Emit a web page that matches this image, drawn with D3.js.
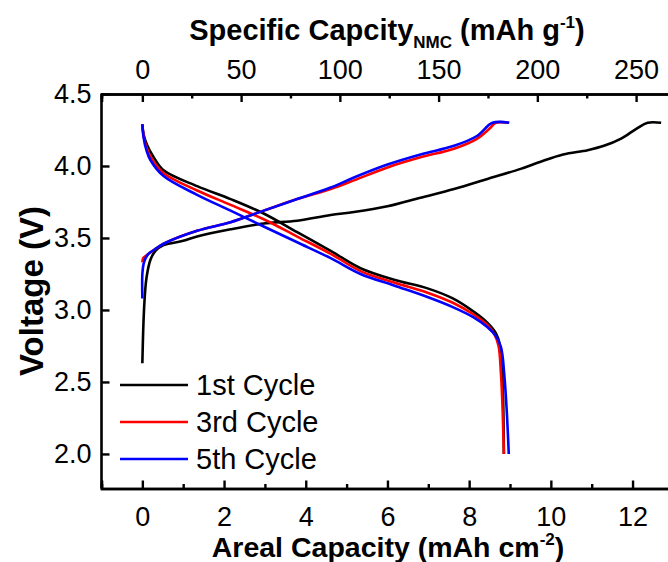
<!DOCTYPE html>
<html>
<head>
<meta charset="utf-8">
<script src="https://cdn.jsdelivr.net/npm/d3@7"></script>
<style>
  body { margin: 0; background: #fff; }
  svg { display: block; font-family: "Liberation Sans", Arial, sans-serif; }
</style>
</head>
<body>
<script>
// cycle 1 (black)
var c1ChargeCap = [0, 0.02, 0.05, 0.1, 0.2, 0.32, 0.52, 1.0, 1.34, 2.16, 2.97, 3.79, 4.61, 5.18, 6.0, 6.81, 7.63, 8.45, 9.26, 9.75, 10.3, 10.9, 11.3, 11.72, 12.1, 12.37, 12.7];
var c1ChargeV   = [2.63, 2.85, 3.05, 3.22, 3.35, 3.41, 3.45, 3.48, 3.51, 3.56, 3.60, 3.62, 3.66, 3.68, 3.72, 3.78, 3.84, 3.91, 3.98, 4.03, 4.08, 4.11, 4.14, 4.19, 4.26, 4.30, 4.30];
var c1DisCap = [0, 0.03, 0.11, 0.28, 0.52, 1.34, 2.16, 2.97, 3.79, 4.61, 5.34, 6.16, 6.98, 7.6, 8.1, 8.45, 8.65, 8.75, 8.8, 8.83, 8.85];
var c1DisV   = [4.29, 4.22, 4.15, 4.06, 3.97, 3.86, 3.77, 3.67, 3.54, 3.41, 3.29, 3.21, 3.15, 3.08, 2.99, 2.91, 2.84, 2.76, 2.60, 2.40, 2.0];

// cycle 3 (red)
var c3ChargeCap = [0, 0.02, 0.06, 0.15, 0.3, 0.52, 1.34, 2.16, 2.97, 3.79, 4.61, 5.18, 6.0, 6.81, 7.63, 8.2, 8.5, 8.65, 8.98];
var c3ChargeV   = [3.33, 3.36, 3.37, 3.39, 3.42, 3.46, 3.55, 3.61, 3.69, 3.77, 3.84, 3.90, 3.99, 4.06, 4.12, 4.19, 4.26, 4.30, 4.30];
var c3DisCap = [0, 0.03, 0.1, 0.25, 0.52, 1.34, 2.16, 2.97, 3.79, 4.61, 5.34, 6.16, 6.98, 7.6, 8.1, 8.45, 8.62, 8.72, 8.78, 8.82, 8.85];
var c3DisV   = [4.29, 4.21, 4.13, 4.04, 3.95, 3.83, 3.73, 3.63, 3.51, 3.39, 3.27, 3.19, 3.12, 3.05, 2.97, 2.895, 2.83, 2.75, 2.55, 2.30, 2.0];

// cycle 5 (blue)
var c5ChargeCap = [0, 0, 0.03, 0.08, 0.15, 0.3, 0.52, 1.34, 2.16, 2.97, 3.79, 4.61, 5.18, 6.0, 6.81, 7.63, 8.2, 8.57, 8.98];
var c5ChargeV   = [3.08, 3.25, 3.32, 3.36, 3.39, 3.42, 3.46, 3.55, 3.61, 3.69, 3.77, 3.85, 3.92, 4.01, 4.08, 4.14, 4.21, 4.30, 4.30];
var c5DisCap = [0, 0.03, 0.1, 0.2, 0.52, 1.34, 2.16, 2.97, 3.79, 4.61, 5.34, 6.16, 6.98, 7.6, 8.1, 8.45, 8.65, 8.78, 8.86, 8.92, 8.97];
var c5DisV   = [4.29, 4.20, 4.11, 4.04, 3.93, 3.80, 3.69, 3.58, 3.47, 3.36, 3.25, 3.17, 3.09, 3.02, 2.95, 2.88, 2.82, 2.74, 2.55, 2.30, 2.0];

var seriesNames = ["1st Cycle", "3rd Cycle", "5th Cycle"];
var seriesColors = ["#000000", "#ff0000", "#0000ff"];

var xTicks = [0, 2, 4, 6, 8, 10, 12];
var xMinor = [1, 3, 5, 7, 9, 11, 13];
var topTicks = [0, 50, 100, 150, 200, 250];
var topMinor = [25, 75, 125, 175, 225, 275];
var yTicks = [2.0, 2.5, 3.0, 3.5, 4.0, 4.5];

var width = 668, height = 562;
var plotLeft = 101.5, plotTop = 94, plotBottom = 488.5;

var svg = d3.select("body").append("svg")
  .attr("width", width)
  .attr("height", height);

var x = d3.scaleLinear().domain([-1, 13]).range([plotLeft, plotLeft + 14 * 40.85]);
var k = 40.85 / 1.975;  // mAh g-1 per mAh cm-2
var xTop = d3.scaleLinear().domain([-1 * k, 13 * k]).range(x.range());
var y = d3.scaleLinear().domain([1.76, 4.5]).range([plotBottom, plotTop]);

// axes
var gx = svg.append("g").attr("transform", "translate(0," + plotBottom + ")")
  .call(d3.axisBottom(x).tickValues(xTicks).tickSize(-8).tickPadding(18).tickFormat(d3.format("d")));
svg.append("g").attr("transform", "translate(0," + plotBottom + ")")
  .call(d3.axisBottom(x).tickValues(xMinor).tickSize(-4.5).tickFormat(""));

var gt = svg.append("g").attr("transform", "translate(0," + plotTop + ")")
  .call(d3.axisTop(xTop).tickValues(topTicks).tickSize(-8).tickPadding(15).tickFormat(d3.format("d")));
svg.append("g").attr("transform", "translate(0," + plotTop + ")")
  .call(d3.axisTop(xTop).tickValues(topMinor).tickSize(-4.5).tickFormat(""));

var gy = svg.append("g").attr("transform", "translate(" + plotLeft + ",0)")
  .call(d3.axisLeft(y).tickValues(yTicks).tickSize(-8).tickPadding(10).tickFormat(d3.format(".1f")));

svg.selectAll(".domain").attr("stroke", "#000").attr("stroke-width", 2.6);
svg.selectAll(".tick line").attr("stroke", "#000").attr("stroke-width", 2.4);
svg.selectAll(".tick text").attr("fill", "#000")
  .style("font-size", "27px").style("font-family", "'Liberation Sans', Arial, sans-serif");
gy.selectAll(".domain").attr("d", "M0," + plotBottom + "V" + plotTop);

// curves
var line = d3.line()
  .x(function(d) { return x(d[0]); })
  .y(function(d) { return y(d[1]); })
  .curve(d3.curveCatmullRom.alpha(0.5));

var curves = [
  [c1ChargeCap, c1ChargeV, 0], [c1DisCap, c1DisV, 0],
  [c3ChargeCap, c3ChargeV, 1], [c3DisCap, c3DisV, 1],
  [c5ChargeCap, c5ChargeV, 2], [c5DisCap, c5DisV, 2]
];

svg.append("g").selectAll("path")
  .data(curves)
  .enter().append("path")
  .attr("d", function(c) { return line(d3.zip(c[0], c[1])); })
  .attr("fill", "none")
  .attr("stroke", function(c) { return seriesColors[c[2]]; })
  .attr("stroke-width", 2.6)
  .attr("stroke-linejoin", "round");

// legend
var legend = svg.append("g").selectAll("g")
  .data(seriesNames)
  .enter().append("g")
  .attr("transform", function(d, i) { return "translate(120," + (385 + i * 37) + ")"; });
legend.append("line")
  .attr("x1", 0).attr("x2", 68)
  .attr("stroke", function(d, i) { return seriesColors[i]; })
  .attr("stroke-width", 2.6);
legend.append("text")
  .attr("x", 76).attr("dy", "0.36em")
  .style("font-size", "29px")
  .text(function(d) { return d; });

// titles
var tb = svg.append("text")
  .attr("x", 387).attr("y", 40)
  .attr("text-anchor", "middle")
  .style("font-weight", "bold").style("font-size", "29px");
tb.append("tspan").text("Specific Capcity");
tb.append("tspan").attr("dy", 8).style("font-size", "17px").text("NMC");
tb.append("tspan").attr("dy", -8).text(" (mAh g");
tb.append("tspan").attr("dy", -12).style("font-size", "17px").text("-1");
tb.append("tspan").attr("dy", 12).text(")");

var bt = svg.append("text")
  .attr("x", 388).attr("y", 557)
  .attr("text-anchor", "middle")
  .style("font-weight", "bold").style("font-size", "28.5px");
bt.append("tspan").text("Areal Capacity (mAh cm");
bt.append("tspan").attr("dy", -12).style("font-size", "17px").text("-2");
bt.append("tspan").attr("dy", 12).text(")");

svg.append("text")
  .attr("transform", "translate(43,291) rotate(-90)")
  .attr("text-anchor", "middle")
  .style("font-weight", "bold").style("font-size", "33px")
  .text("Voltage (V)");
</script>
</body>
</html>
